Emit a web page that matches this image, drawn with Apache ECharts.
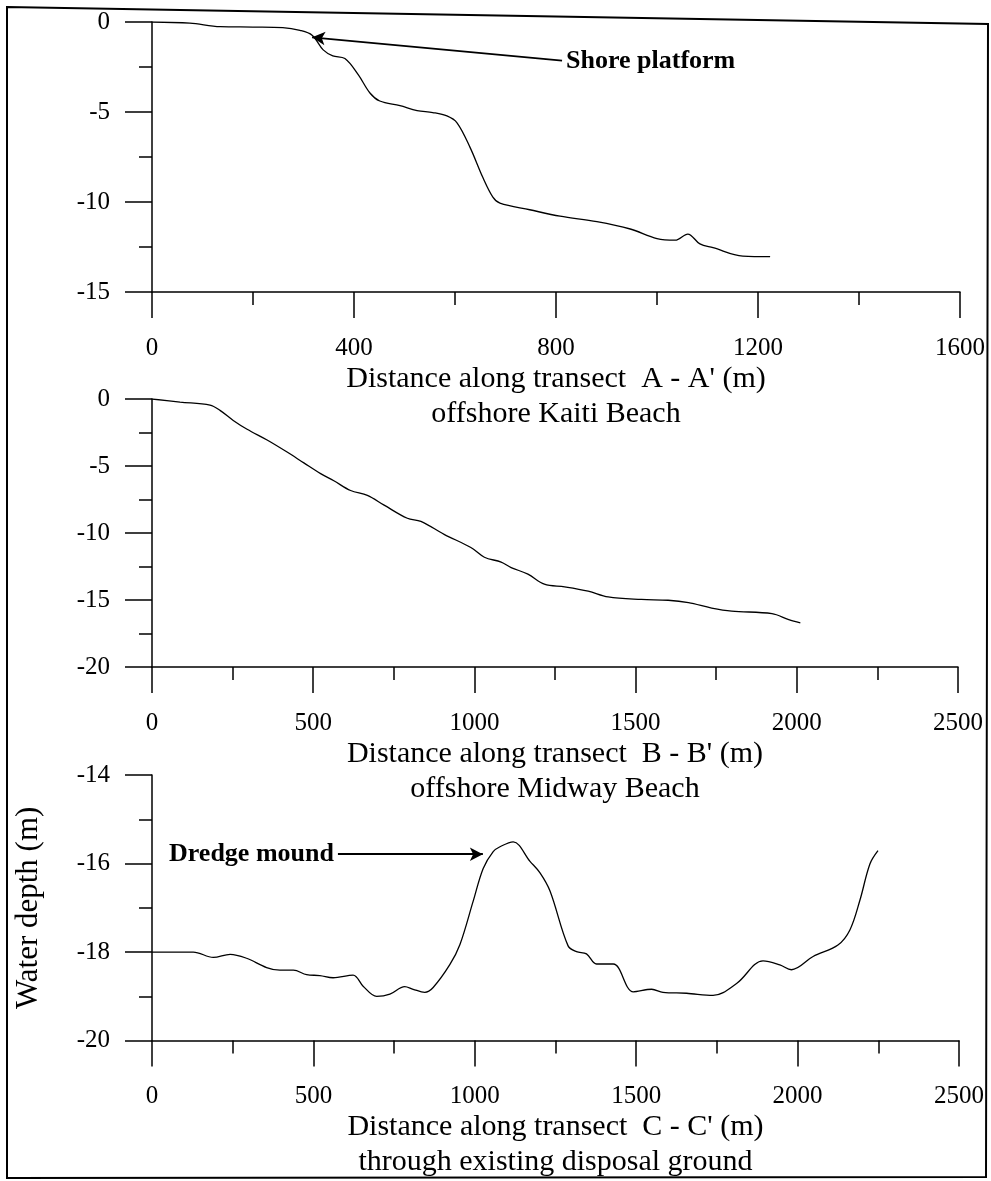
<!DOCTYPE html>
<html>
<head>
<meta charset="utf-8">
<script src="https://cdn.jsdelivr.net/npm/echarts@6/dist/echarts.min.js"></script>
<style>
html,body{margin:0;padding:0;background:#fff;}
#chart{width:991px;height:1181px;}
</style>
</head>
<body>
<div id="chart"></div>
<script>
// ---- Transect A - A' (offshore Kaiti Beach) ----
const aX = [0, 75, 135, 200, 259, 293, 317, 339, 358, 382, 408, 432, 451, 491, 525, 556, 584, 604, 630, 655, 675, 689, 748, 808, 881, 947, 1000, 1036, 1061, 1085, 1111, 1170, 1224];
const aY = [0, -0.06, -0.26, -0.28, -0.31, -0.46, -0.73, -1.55, -1.88, -2.03, -2.91, -3.96, -4.39, -4.65, -4.92, -5.03, -5.22, -5.6, -6.98, -8.63, -9.73, -10.06, -10.43, -10.79, -11.09, -11.5, -12.03, -12.12, -11.78, -12.33, -12.54, -13.01, -13.04];

// ---- Transect B - B' (offshore Midway Beach) ----
const bX = [0, 87, 180, 212, 252, 295, 357, 419, 471, 523, 564, 616, 668, 720, 792, 834, 906, 989, 1031, 1083, 1114, 1166, 1217, 1280, 1353, 1415, 1518, 1601, 1664, 1736, 1798, 1923, 1975, 2011];
const bY = [0, -0.23, -0.45, -0.87, -1.6, -2.26, -3.06, -3.96, -4.77, -5.57, -6.1, -6.83, -7.19, -7.92, -8.9, -9.13, -10.1, -11.08, -11.81, -12.17, -12.58, -13.07, -13.82, -14.02, -14.34, -14.77, -14.96, -15.02, -15.2, -15.6, -15.83, -16.02, -16.46, -16.7];

// ---- Transect C - C' (through existing disposal ground) ----
const cX = [0, 128, 190, 242, 293, 355, 396, 438, 479, 520, 561, 623, 654, 696, 737, 783, 809, 845, 871, 923, 954, 995, 1026, 1057, 1078, 1119, 1171, 1202, 1233, 1289, 1315, 1346, 1377, 1429, 1491, 1548, 1583, 1656, 1738, 1811, 1893, 1945, 1981, 2048, 2125, 2162, 2193, 2224, 2249];
const cY = [-18.0, -18.0, -18.12, -18.05, -18.14, -18.35, -18.41, -18.41, -18.51, -18.53, -18.58, -18.52, -18.77, -19.0, -18.95, -18.78, -18.84, -18.91, -18.8, -18.28, -17.83, -16.85, -16.11, -15.73, -15.62, -15.51, -15.95, -16.21, -16.62, -17.86, -17.99, -18.04, -18.27, -18.27, -18.9, -18.84, -18.91, -18.93, -18.98, -18.71, -18.2, -18.29, -18.4, -18.1, -17.84, -17.5, -16.83, -16.01, -15.71];

// ---- Axis names ----
const xNames = [
  "Distance along transect  A - A' (m)\noffshore Kaiti Beach",
  "Distance along transect  B - B' (m)\noffshore Midway Beach",
  "Distance along transect  C - C' (m)\nthrough existing disposal ground"
];
const yName = "Water depth (m)";

// ---- Annotations (data coordinates: [distance, depth]) ----
const shoreArrow = [[317, -0.85], [812, -2.15]];
const shoreText = "Shore platform";
const dredgeArrow = [[1025, -15.79], [576, -15.79]];
const dredgeText = "Dredge mound";

const FONT = "'Liberation Serif','Times New Roman',serif";
const BLACK = '#000';

function zip(xs, ys) { return xs.map((x, i) => [x, ys[i]]); }
function plain(v) { return String(v); }

function xAxisCfg(gi, max, interval, name) {
  return {
    type: 'value', gridIndex: gi, min: 0, max: max, interval: interval,
    name: name, nameLocation: 'middle', nameGap: 68,
    nameTextStyle: { fontFamily: FONT, fontSize: 30, lineHeight: 35, color: BLACK },
    axisLine: { onZero: false, lineStyle: { color: BLACK, width: 1.5 } },
    axisTick: { length: 26, lineStyle: { color: BLACK, width: 1.5 } },
    minorTick: { show: true, splitNumber: 2, length: 13, lineStyle: { color: BLACK, width: 1.5 } },
    axisLabel: { margin: 44, fontFamily: FONT, fontSize: 25, lineHeight: 24, color: BLACK, showMinLabel: true, showMaxLabel: true, formatter: plain },
    splitLine: { show: false }, minorSplitLine: { show: false }
  };
}
function yAxisCfg(gi, min, max, interval, extra) {
  return Object.assign({
    type: 'value', gridIndex: gi, min: min, max: max, interval: interval,
    axisLine: { onZero: false, lineStyle: { color: BLACK, width: 1.5 } },
    axisTick: { length: 27, lineStyle: { color: BLACK, width: 1.5 } },
    minorTick: { show: true, splitNumber: 2, length: 13, lineStyle: { color: BLACK, width: 1.5 } },
    axisLabel: { margin: 42, fontFamily: FONT, fontSize: 25, color: BLACK, showMinLabel: true, showMaxLabel: true, formatter: plain },
    splitLine: { show: false }, minorSplitLine: { show: false }
  }, extra || {});
}

function arrowMarkLine(pts, text, fontSize, padding) {
  return {
    silent: true,
    animation: false,
    symbol: ['arrow', 'none'],
    symbolSize: [10, 13],
    lineStyle: { color: BLACK, width: 1.8, type: 'solid' },
    label: {
      show: true, position: 'end', distance: 4,
      formatter: text, padding: padding,
      fontFamily: FONT, fontWeight: 'bold', fontSize: fontSize, color: BLACK
    },
    data: [[{ coord: pts[0] }, { coord: pts[1] }]]
  };
}

const lineStyle = { color: BLACK, width: 1.3 };

const option = {
  animation: false,
  backgroundColor: '#fff',
  grid: [
    { left: 152, top: 22, width: 808, height: 270 },
    { left: 152, top: 399, width: 806, height: 268 },
    { left: 152, top: 775, width: 807, height: 268 }
  ],
  xAxis: [
    xAxisCfg(0, 1600, 400, xNames[0]),
    xAxisCfg(1, 2500, 500, xNames[1]),
    xAxisCfg(2, 2500, 500, xNames[2])
  ],
  yAxis: [
    yAxisCfg(0, -15, 0, 5),
    yAxisCfg(1, -20, 0, 5),
    yAxisCfg(2, -20, -14, 2, {
      name: yName, nameLocation: 'middle', nameRotate: 90, nameGap: 108,
      nameTextStyle: { fontFamily: FONT, fontSize: 31, color: BLACK }
    })
  ],
  series: [
    {
      type: 'line', xAxisIndex: 0, yAxisIndex: 0, data: zip(aX, aY),
      showSymbol: false, smooth: 0.35, lineStyle: lineStyle,
      markLine: arrowMarkLine(shoreArrow, shoreText, 26, [8, 0, 0, 0])
    },
    {
      type: 'line', xAxisIndex: 1, yAxisIndex: 1, data: zip(bX, bY),
      showSymbol: false, smooth: 0.35, lineStyle: lineStyle
    },
    {
      type: 'line', xAxisIndex: 2, yAxisIndex: 2, data: zip(cX, cY),
      showSymbol: false, smooth: 0.35, lineStyle: lineStyle,
      markLine: arrowMarkLine(dredgeArrow, dredgeText, 26, [0, 0, 3, 0])
    }
  ],
  graphic: [
    {
      type: 'polygon', silent: true,
      shape: { points: [[7, 7], [988, 24], [986, 1177], [7, 1178]] },
      style: { fill: 'none', stroke: BLACK, lineWidth: 2 }
    }
  ]
};

const chart = echarts.init(document.getElementById('chart'), null, { renderer: 'canvas' });
chart.setOption(option);
</script>
</body>
</html>
